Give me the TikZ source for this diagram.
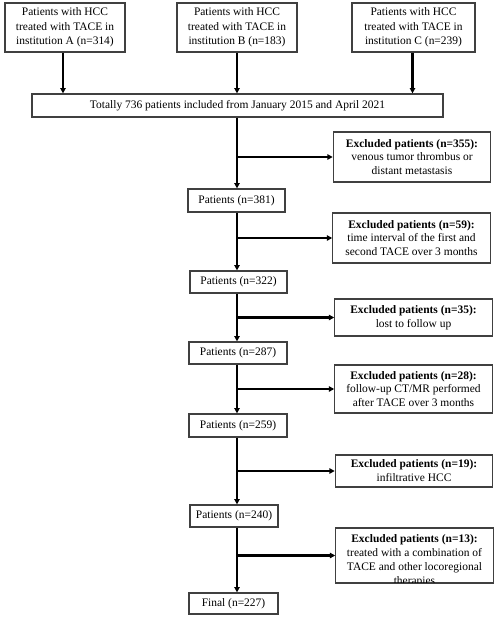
\documentclass[tikz,border=0pt]{standalone}
\usepackage{fontspec}
\setmainfont{Liberation Serif}
\usetikzlibrary{calc,arrows.meta}

\begin{document}
\begin{tikzpicture}[x=0.75pt,y=-0.75pt,
    box/.style={draw=black!75,line width=0.9pt,fill=white,inner sep=0pt,align=center,
        font=\fontsize{8.6}{10.4}\selectfont},
    srcbox/.style={box,minimum height=36.75pt,font=\fontsize{8.6}{11}\selectfont},
    exbox/.style={box,minimum width=118pt},
    flow/.style={line width=1.9pt,-{Triangle[length=4pt,width=4pt]}}]

            \useasboundingbox (0,0) rectangle (497,618);
            % sources
            \node[srcbox,minimum width=90pt] (srcA) at (65,27.5)
                {Patients with HCC\\treated with TACE in\\institution A (n=314)};
            \node[srcbox,minimum width=90pt] (srcB) at (237,27.5)
                {Patients with HCC\\treated with TACE in\\institution B (n=183)};
            \node[srcbox,minimum width=92.25pt] (srcC) at (413.5,27.5)
                {Patients with HCC\\treated with TACE in\\institution C (n=239)};
            \node[box,minimum width=308.25pt,minimum height=17.25pt] (total) at (237.5,105.5)
                {Totally 736 patients included from January 2015 and April 2021};
            % main column
            \coordinate (col) at (237,0);
            \node[box,minimum width=72.75pt,minimum height=17.25pt] (p381) at (236.5,200.5) {Patients (n=381)};
            \node[box,minimum width=72.75pt,minimum height=16.5pt] (p322) at (238.5,282) {Patients (n=322)};
            \node[box,minimum width=73.5pt,minimum height=16.5pt] (p287) at (238,353) {Patients (n=287)};
            \node[box,minimum width=73.5pt,minimum height=17.25pt] (p259) at (238,425.5) {Patients (n=259)};
            \node[box,minimum width=66pt,minimum height=16.5pt] (p240) at (234,516) {Patients (n=240)};
            \node[box,minimum width=66.75pt,minimum height=15.75pt] (final) at (233.5,603.5) {Final (n=227)};
            % excluded
            \node[exbox,minimum height=37.5pt] (ex1) at (412,157)
                {\textbf{Excluded patients (n=355):}\\venous tumor thrombus or\\distant metastasis};
            \node[exbox,minimum height=37.5pt] (ex2) at (411.5,238)
                {\textbf{Excluded patients (n=59):}\\time interval of the first and\\second TACE over 3 months};
            \node[exbox,minimum height=27.75pt] (ex3) at (413.5,317.5)
                {\textbf{Excluded patients (n=35):}\\lost to follow up};
            \node[exbox,minimum height=36pt] (ex4) at (413.5,389)
                {\textbf{Excluded patients (n=28):}\\follow-up CT/MR performed\\after TACE over 3 months};
            \node[exbox,minimum height=24pt] (ex5) at (414,471)
                {\textbf{Excluded patients (n=19):}\\infiltrative HCC};
            \node[exbox,minimum height=41.25pt] (ex6) at (414.5,555.5) {};
            % last box text runs past its bottom edge
            \begin{scope}
                \clip (ex6.south west) rectangle (ex6.north east);
                \node[font=\fontsize{8.6}{10.5}\selectfont,align=center,anchor=north,inner sep=0pt]
                    (ex6txt) at ($(ex6.north)+(0,7)$)
                    {\textbf{Excluded patients (n=13):}\\treated with a combination of\\TACE and other locoregional\\therapies};
            \end{scope}
            \draw[black!75,line width=0.9pt] (ex6.south west) rectangle (ex6.north east);

            % arrows into the total box
            \draw[flow] (srcA.south) ++(-2,0) coordinate (a1) -- (a1 |- total.north);
            \draw[flow] (srcB.south) -- (srcB.south |- total.north);
            \draw[flow] (srcC.south) ++(-1,0) coordinate (c1) -- (c1 |- total.north);
            % main line
            \draw[flow] (total.south -| col) -- (p381.north -| col);
            \draw[flow] (p381.south -| col) -- (p322.north -| col);
            \draw[flow] (p322.south -| col) -- (p287.north -| col);
            \draw[flow] (p287.south -| col) -- (p259.north -| col);
            \draw[flow] (p259.south -| col) -- (p240.north -| col);
            \draw[flow] (p240.south -| col) -- (final.north -| col);
            % branches
            \draw[flow] (ex1.west -| col) -- (ex1.west);
            \draw[flow] (ex2.west -| col) -- (ex2.west);
            \draw[flow] (ex3.west -| col) -- (ex3.west);
            \draw[flow] (ex4.west -| col) -- (ex4.west);
            \draw[flow] (ex5.west -| col) -- (ex5.west);
            \draw[flow] (ex6.west -| col) -- (ex6.west);
        \end{tikzpicture}
\end{document}
